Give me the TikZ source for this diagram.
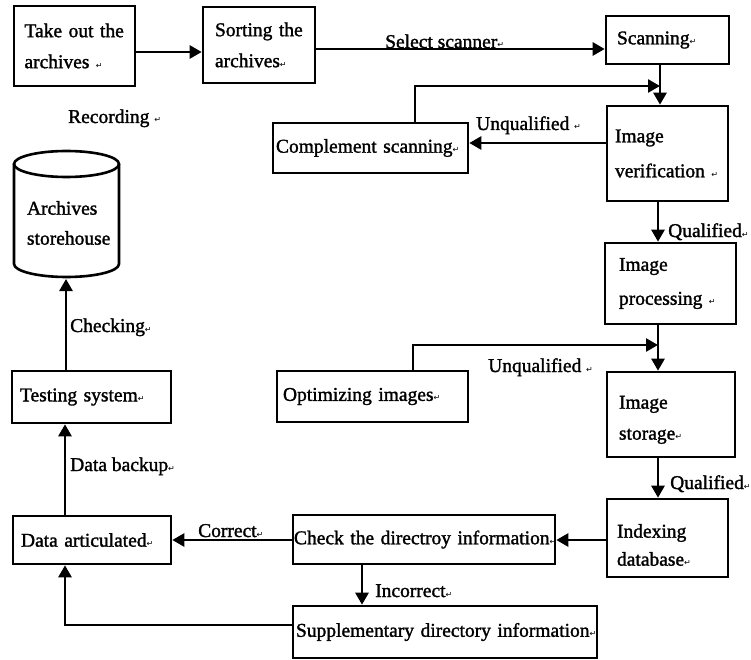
\documentclass[tikz,border=0pt]{standalone}
\usepackage{fontspec}
\setmainfont{Liberation Serif}[FakeBold=1.5]
\newfontfamily\djv{DejaVu Sans}
\usetikzlibrary{arrows.meta}
\newcommand\retmark{{\djv\fontsize{8}{8}\selectfont ↵}}
\tikzset{
  box/.style={draw, line width=2.6pt, rectangle, align=left, inner xsep=10pt, inner ysep=0pt,
    font=\fontsize{19.5}{31}\selectfont},
  lab/.style={inner sep=0pt, anchor=base west, font=\fontsize{19.5}{31}\selectfont},
  arr/.style={line width=2.6pt, -{Triangle[length=12pt,width=13pt]}},
  ln/.style={line width=2.6pt}
}
\begin{document}
\begin{tikzpicture}[x=1pt,y=-1pt]
\useasboundingbox (0,0) rectangle (751,660);
% boxes
\node[box, minimum width=121pt, minimum height=80pt, text width=100pt] (take) at (74.5,46) {\mbox{Take out the}\\\mbox{archives \retmark}};
\node[box, minimum width=112pt, minimum height=76pt, text width=88pt, inner xsep=12pt] (sort) at (259,45) {\mbox{Sorting the}\\\mbox{archives\retmark}};
\node[box, minimum width=123pt, minimum height=48pt, text width=101pt, inner xsep=11pt] (scan) at (667.5,40) {\mbox{Scanning\retmark}};
\node[box, minimum width=121pt, minimum height=95pt, text width=105pt, inner xsep=8pt] (verif) at (667.5,153.5) {\mbox{Image}\\[4pt]\mbox{verification \retmark}};
\node[box, minimum width=195pt, minimum height=50pt, text width=189pt, inner xsep=3pt] (compl) at (370.5,148) {\mbox{Complement scanning\retmark}};
\node[box, minimum width=131pt, minimum height=81pt, text width=103pt, inner xsep=14pt] (proc) at (670.5,283.5) {\mbox{Image}\\[3pt]\mbox{processing \retmark}};
\node[box, minimum width=191pt, minimum height=51pt, text width=179pt, inner xsep=6pt] (optim) at (372.5,396.5) {\mbox{Optimizing images\retmark}};
\node[box, minimum width=128pt, minimum height=85pt, text width=104pt, inner xsep=12pt] (stor) at (671,414.5) {\mbox{}\\[-7.5pt]\mbox{Image}\\\mbox{storage\retmark}};
\node[box, minimum width=121pt, minimum height=78pt, text width=101pt, inner xsep=10pt] (index) at (667.5,538) {\mbox{}\\[-3.5pt]\mbox{Indexing}\\[-3pt]\mbox{database\retmark}};
\node[box, minimum width=262pt, minimum height=49pt, text width=260pt, inner xsep=1pt] (check) at (424,539.5) {\mbox{Check the directroy information\retmark}};
\node[box, minimum width=304pt, minimum height=52pt, text width=298pt, inner xsep=3pt] (supp) at (445,632) {\mbox{Supplementary directory information\retmark}};
\node[box, minimum width=158pt, minimum height=48pt, text width=142pt, inner xsep=8pt] (dart) at (92,540) {\mbox{Data articulated\retmark}};
\node[box, minimum width=159pt, minimum height=52pt, text width=143pt, inner xsep=8pt] (test) at (91.5,397) {\mbox{Testing system\retmark}};
% cylinder
\draw[line width=2.6pt] (66.5,164) ellipse [x radius=52.5pt, y radius=13pt];
\draw[line width=2.6pt] (14,164) -- (14,264) arc[start angle=180, end angle=360, x radius=52.5pt, y radius=13pt] -- (119,164);
\node[inner sep=0pt, align=left, text width=90pt, font=\fontsize{19.5}{30}\selectfont] (store) at (72,223) {Archives\\storehouse};
\coordinate (cylbot) at (66,279);
\coordinate (j1) at (660,86);
\coordinate (j2) at (658,345);
% labels
\node[lab] (l1) at (385,48) {Select scanner\retmark};
\node[lab] (l2) at (68,123) {Recording \retmark};
\node[lab] (l3) at (476,130) {Unqualified \retmark};
\node[lab] (l4) at (668,237) {Qualified\retmark};
\node[lab] (l5) at (488,372) {Unqualified \retmark};
\node[lab] (l6) at (670,489) {Qualified\retmark};
\node[lab] (l7) at (198,537) {Correct\retmark};
\node[lab] (l8) at (375,597) {Incorrect\retmark};
\node[lab] (l9) at (70,471) {Data backup\retmark};
\node[lab] (l10) at (70,332) {Checking\retmark};
% connectors
\draw[arr] ([yshift=-6pt]take.east) -- ([yshift=-7pt]sort.west);
\draw[arr] ([yshift=-4pt]sort.east) -- ([yshift=-9pt]scan.west);
\draw[arr] ([xshift=-7.5pt]scan.south) -- ([xshift=-7.5pt]verif.north);
\draw[arr] ([yshift=10.5pt]verif.west) -- ([yshift=5pt]compl.east);
\draw[arr] ([xshift=44.5pt]compl.north) |- (j1);
\draw[arr] ([xshift=-9.5pt]verif.south) -- ([xshift=-12.5pt]proc.north);
\draw[arr] ([xshift=40.5pt]optim.north) |- (j2);
\draw[arr] ([xshift=-12.5pt]proc.south) -- ([xshift=-13pt]stor.north);
\draw[arr] ([xshift=-13pt]stor.south) -- ([xshift=-9.5pt]index.north);
\draw[arr] ([yshift=-2pt]index.west) -- ([yshift=-0.5pt]check.east);
\draw[arr] ([yshift=-0.5pt]check.west) -- (dart.east);
\draw[arr] ([xshift=-62pt]check.south) -- ([xshift=-83pt]supp.north);
\draw[arr] ([yshift=7pt]supp.west) -| ([xshift=-27pt]dart.south);
\draw[arr] ([xshift=-27pt]dart.north) -- ([xshift=-26.5pt]test.south);
\draw[arr] ([xshift=-25.5pt]test.north) -- (cylbot);
\end{tikzpicture}
\end{document}
